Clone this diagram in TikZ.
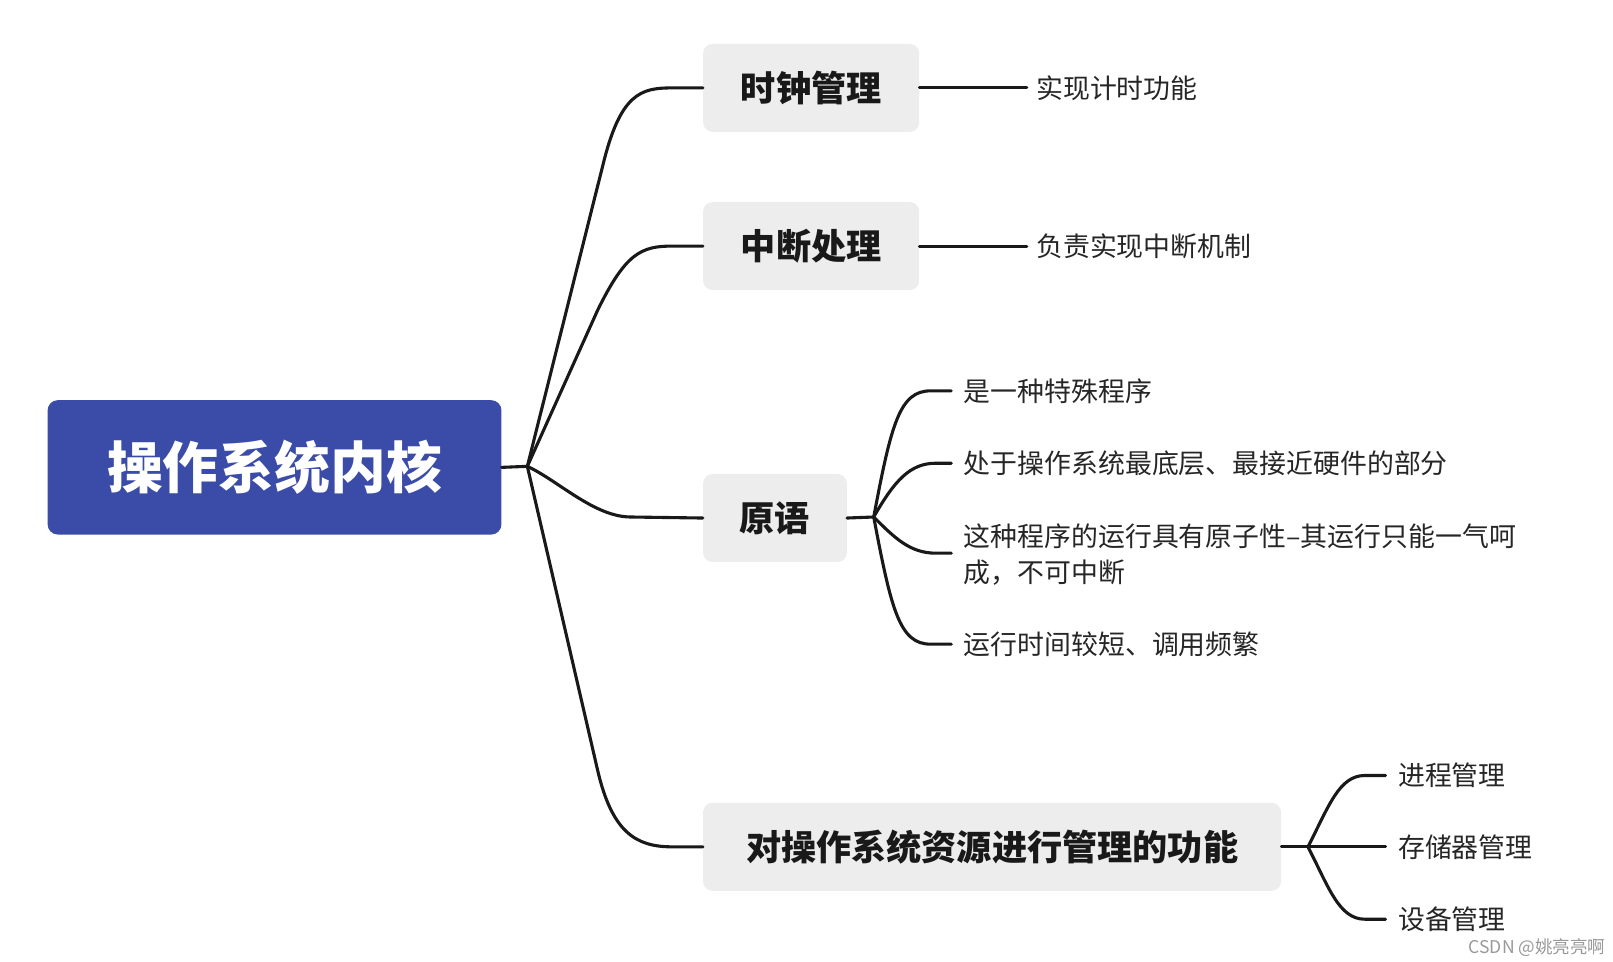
\documentclass[tikz,border=0pt]{standalone}
\usepackage{fontspec}
\setmainfont{Noto Sans CJK SC}
\begin{document}
\begin{tikzpicture}[x=1pt,y=-1pt,
  conn/.style={line width=3pt,draw=black!90,line cap=round},
  l1/.style={fill=black!7,rounded corners=9pt,font=\fontsize{34}{40}\selectfont\bfseries,inner sep=0,minimum height=85pt,text=black!90},
  leaf/.style={anchor=west,inner sep=0,font=\fontsize{26}{35}\selectfont,text=black!85,align=left}]
\useasboundingbox (0,0) rectangle (1560,930);
\node[fill={rgb,255:red,58;green,75;blue,168},rounded corners=10pt,minimum width=439pt,minimum height=130pt,inner sep=0,text=white,font=\fontsize{54}{60}\selectfont\bfseries] (root) at (265.5,452) {操作系统内核};
\coordinate (h) at (510,451);
\node[l1,minimum width=209pt] (a) at (784.5,85) {时钟管理};
\node[l1,minimum width=209pt] (b) at (784.5,238) {中断处理};
\node[l1,minimum width=139pt] (c) at (749.5,501) {原语};
\node[l1,minimum width=559pt] (d) at (959.5,819) {对操作系统资源进行管理的功能};
\draw[conn] (root.east) -- (h);
\draw[conn] (h) -- (583,160) .. controls (600,90) and (620,85) .. (650,85) -- (a.west);
\draw[conn] (h) -- (578,300) .. controls (605,245) and (620,238) .. (650,238) -- (b.west);
\draw[conn] (h) .. controls (540,465) and (575,500) .. (610,500) -- (c.west);
\draw[conn] (h) -- (578,745) .. controls (592,805) and (615,819) .. (650,819) -- (d.west);
\node[leaf] (a1) at (1002,85) {实现计时功能};
\node[leaf] (b1) at (1002,238) {负责实现中断机制};
\draw[conn] (a.east) -- (993,85);
\draw[conn] (b.east) -- (993,238);
\coordinate (hc) at (845,500);
\draw[conn] (c.east) -- (hc);
\node[leaf] (c1) at (932,378) {是一种特殊程序};
\node[leaf] (c2) at (932,448) {处于操作系统最底层、最接近硬件的部分};
\node[leaf] (c3) at (932,536) {这种程序的运行具有原子性--其运行只能一气呵\\成，不可中断};
\node[leaf] (c4) at (932,623) {运行时间较短、调用频繁};
\draw[conn] (hc) .. controls (862,410) and (870,378) .. (900,378) -- (920,378);
\draw[conn] (hc) .. controls (865,465) and (880,448) .. (905,448) -- (920,448);
\draw[conn] (hc) .. controls (865,520) and (880,535) .. (905,535) -- (920,535);
\draw[conn] (hc) .. controls (862,590) and (870,623) .. (900,623) -- (920,623);
\coordinate (hd) at (1265,819);
\draw[conn] (d.east) -- (hd);
\node[leaf] (d1) at (1352,750) {进程管理};
\node[leaf] (d2) at (1352,819) {存储器管理};
\node[leaf] (d3) at (1352,889) {设备管理};
\draw[conn] (hd) .. controls (1285,780) and (1295,750) .. (1320,750) -- (1340,750);
\draw[conn] (hd) -- (1340,819);
\draw[conn] (hd) .. controls (1285,858) and (1295,889) .. (1320,889) -- (1340,889);
\node[anchor=east,inner sep=0,font=\fontsize{17}{20}\selectfont,text=black!40] (wm) at (1553,916) {CSDN @姚亮亮啊};
\end{tikzpicture}
\end{document}
